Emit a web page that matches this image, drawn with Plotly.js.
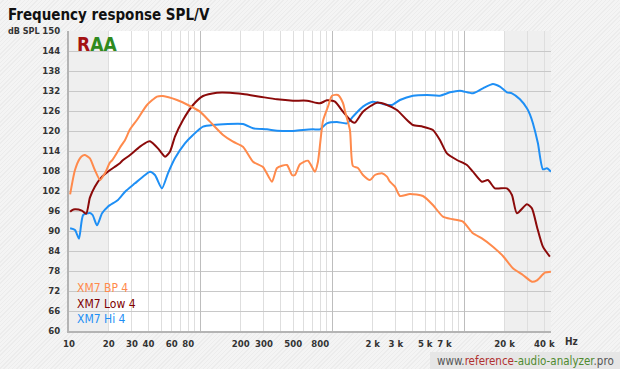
<!DOCTYPE html>
<html>
<head>
<meta charset="utf-8">
<script src="https://cdn.plot.ly/plotly-3.0.1.min.js"></script>
<style>
  html, body { margin: 0; padding: 0; }
  body {
    width: 620px; height: 369px; overflow: hidden;
    background: repeating-linear-gradient(135deg, #f4f4f4 0px, #f4f4f4 2px, #ececec 2px, #ececec 3px);
  }
  #chart { width: 620px; height: 369px; }
</style>
</head>
<body>
<div id="chart"></div>
<script>
// ---- data (frequency in Hz, level in dB SPL) ----
const bpFreq = [10.2, 11.1, 12.1, 12.8, 13.2, 14.4, 15.7, 17.2, 18.7, 20.4, 21.2, 23.1, 24.3, 26.6, 29.0, 32.7, 39.0, 46.4, 51.5, 65.8, 82.5, 98.3, 117, 147, 175, 208, 248, 295, 345, 377, 448, 489, 515, 562, 647, 730, 770, 840, 917, 983, 1091, 1191, 1233, 1345, 1417, 1547, 1688, 1907, 2081, 2351, 2565, 2703, 2950, 3218, 3831, 4807, 5722, 6813, 8113, 9656, 11500, 13450, 16300, 19410, 23100, 27500, 32190, 35130, 40370, 44830];
const bpLevel = [101.0, 108.3, 111.8, 112.7, 112.8, 111.8, 108.3, 105.3, 107.3, 110.5, 111.2, 113.5, 115.0, 117.3, 120.5, 123.3, 127.8, 130.3, 130.5, 129.3, 127.5, 125.8, 122.8, 118.8, 116.8, 115.3, 110.8, 109.2, 104.8, 108.9, 109.8, 106.8, 106.8, 110.0, 111.1, 107.8, 110.8, 123.0, 127.3, 130.6, 130.8, 128.4, 126.0, 120.3, 109.5, 108.9, 106.8, 105.3, 106.8, 107.3, 106.3, 104.8, 103.3, 100.5, 101.1, 100.5, 97.8, 94.3, 93.5, 92.8, 89.3, 87.8, 85.3, 82.5, 78.8, 76.8, 74.8, 75.2, 77.5, 77.8];

const lowFreq = [10.2, 10.5, 11.1, 12.5, 13.5, 14.4, 15.7, 17.8, 19.7, 22.3, 24.3, 25.2, 29.0, 34.5, 39.7, 41.1, 47.2, 53.4, 58.2, 63.5, 73.1, 87.0, 103.6, 132, 166, 208, 280, 377, 498, 635, 797, 900, 1036, 1191, 1393, 1468, 1688, 2154, 2565, 3053, 3637, 4037, 4807, 5722, 6466, 7305, 8700, 10360, 11500, 13450, 14940, 16880, 20810, 22710, 24770, 29490, 32190, 35130, 38980, 44050];
const lowLevel = [95.8, 96.2, 96.5, 96.1, 95.2, 100.0, 103.3, 106.3, 107.8, 109.3, 110.3, 111.0, 112.8, 115.3, 116.8, 116.9, 114.8, 112.3, 113.8, 118.3, 123.3, 127.8, 130.5, 131.5, 131.5, 131.1, 130.3, 129.5, 129.1, 129.1, 128.3, 129.2, 128.8, 125.8, 122.8, 122.5, 125.8, 128.5, 127.8, 126.3, 123.3, 121.8, 121.3, 120.3, 117.3, 113.3, 111.3, 109.8, 107.8, 104.8, 105.3, 102.8, 102.8, 100.8, 95.3, 98.0, 96.8, 91.3, 85.3, 82.3];

const hiFreq = [10.2, 11.1, 11.9, 12.8, 14.4, 15.1, 16.3, 17.8, 19.7, 23.5, 26.6, 31.6, 37.7, 41.1, 44.8, 50.6, 56.2, 63.5, 75.6, 87.0, 103.6, 123, 208, 248, 316, 377, 498, 593, 706, 797, 900, 1072, 1277, 1417, 1688, 2009, 2393, 2799, 3218, 4037, 5153, 6466, 7700, 9165, 11500, 13690, 16300, 18420, 20810, 22710, 26110, 29490, 31070, 32750, 35730, 38980, 41800, 44830];
const hiLevel = [90.8, 90.3, 87.7, 94.8, 95.4, 94.8, 91.7, 95.3, 97.3, 99.3, 101.8, 104.3, 106.8, 107.8, 106.8, 102.8, 107.3, 111.8, 116.3, 118.8, 121.3, 121.8, 122.1, 120.8, 120.5, 120.1, 120.0, 120.3, 120.5, 120.5, 122.3, 122.7, 122.3, 124.3, 127.3, 128.8, 128.1, 127.8, 129.3, 130.6, 130.8, 130.6, 131.6, 132.1, 131.3, 132.8, 134.1, 133.3, 131.6, 131.3, 129.5, 126.8, 125.0, 122.3, 116.3, 108.5, 108.8, 107.8];

const seriesNames = ['XM7 BP 4', 'XM7 Low 4', 'XM7 Hi 4'];
const seriesColors = ['#ff8a4c', '#8b0a0a', '#1e8ff5'];
const legendColors = ['#ff8a4c', '#800000', '#1e8ff5'];

const gridVals = [10,20,30,40,50,60,70,80,90,100,200,300,400,500,600,700,800,900,1000,2000,3000,4000,5000,6000,7000,8000,9000,10000,20000,30000,40000];
const labelMap = {10:'10',20:'20',30:'30',40:'40',60:'60',80:'80',200:'200',300:'300',500:'500',800:'800',2000:'2 k',3000:'3 k',5000:'5 k',7000:'7 k',20000:'20 k',40000:'40 k'};
const majorVals = [100, 1000, 10000];

const xMin = 10, xMax = 44900;
const lmin = Math.log10(xMin), lmax = Math.log10(xMax);
const px = f => (Math.log10(f) - lmin) / (lmax - lmin);

const FONT = 'DejaVu Sans Condensed, DejaVu Sans, sans-serif';

const traces = [
  {x: hiFreq, y: hiLevel, name: seriesNames[2], color: seriesColors[2]},
  {x: lowFreq, y: lowLevel, name: seriesNames[1], color: seriesColors[1]},
  {x: bpFreq, y: bpLevel, name: seriesNames[0], color: seriesColors[0]}
].map(s => ({
  x: s.x, y: s.y, name: s.name, type: 'scatter', mode: 'lines',
  line: {color: s.color, width: 2, shape: 'spline', smoothing: 0.6},
  hoverinfo: 'skip', showlegend: false, xaxis: 'x', yaxis: 'y'
}));
// invisible trace to activate xaxis2 (major grid lines)
traces.unshift({x: [xMin], y: [60], xaxis: 'x2', yaxis: 'y', mode: 'markers', marker: {opacity: 0}, showlegend: false, hoverinfo: 'skip'});

const annotations = [
  {xref: 'paper', yref: 'paper', x: -0.131, y: 1.0, xanchor: 'left', yanchor: 'middle', showarrow: false,
   text: '<b>dB SPL</b>', font: {family: FONT, size: 9, color: '#333'}},
  {xref: 'paper', yref: 'paper', x: 1.0415, y: -0.034, xanchor: 'center', yanchor: 'middle', showarrow: false,
   text: '<b>Hz</b>', font: {family: FONT, size: 10, color: '#333'}},
  {xref: 'paper', yref: 'paper', x: 0.012, y: 1.0, xanchor: 'left', yanchor: 'top', showarrow: false,
   text: '<b><span style="color:#a31212">R</span><span style="color:#2f8a1e">AA</span></b>',
   font: {family: FONT, size: 19}},
  {xref: 'paper', yref: 'paper', x: 1.135, y: -0.1, xanchor: 'right', yanchor: 'middle', showarrow: false,
   text: '<span style="color:#555">www.</span><span style="color:#b03030">reference</span><span style="color:#4f8a2f">-audio-analyzer</span><span style="color:#555">.pro</span>',
   font: {family: FONT, size: 11.5}}
];
seriesNames.forEach((n, i) => {
  annotations.push({xref: 'paper', yref: 'paper', x: 0.012, y: (331 - (288 + i * 15.5)) / 300,
    xanchor: 'left', yanchor: 'middle', showarrow: false, text: n,
    font: {family: FONT, size: 12, color: legendColors[i]}});
});

const shapes = [
  {type: 'rect', xref: 'paper', yref: 'paper', x0: 0, x1: px(20), y0: 0, y1: 1, fillcolor: '#efefef', line: {width: 0}, layer: 'below'},
  {type: 'rect', xref: 'paper', yref: 'paper', x0: px(20000), x1: 1, y0: 0, y1: 1, fillcolor: '#efefef', line: {width: 0}, layer: 'below'},
  {type: 'rect', xref: 'paper', yref: 'paper', x0: (430 - 69) / 482, x1: 1.16, y0: -0.14, y1: (331 - 352) / 300, fillcolor: '#e6e6e6', line: {width: 0}, layer: 'below'}
];

const tickFont = {family: FONT, size: 9.5, color: '#333', weight: 'bold'};

const layout = {
  width: 620, height: 369,
  margin: {l: 69, r: 69, t: 31, b: 38},
  paper_bgcolor: 'rgba(0,0,0,0)',
  plot_bgcolor: '#ffffff',
  title: {text: '<b>Frequency response SPL/V</b>', x: 8 / 620, xanchor: 'left', xref: 'container',
          y: 1 - 15 / 369, yanchor: 'middle', yref: 'container',
          font: {family: FONT, size: 15, color: '#111'}},
  xaxis: {type: 'log', range: [lmin, lmax], tickmode: 'array', tickvals: gridVals,
          ticktext: gridVals.map(v => labelMap[v] || ''), ticks: '', showgrid: true,
          gridcolor: '#dedede', gridwidth: 1, showline: true, linecolor: '#b4b4b4', linewidth: 2,
          tickfont: tickFont, ticklabelstandoff: 3,
          zeroline: false, fixedrange: true},
  xaxis2: {type: 'log', range: [lmin, lmax], overlaying: 'x', tickmode: 'array', tickvals: majorVals,
           showticklabels: false, ticks: '', showgrid: true, gridcolor: '#bdbdbd', gridwidth: 1,
           showline: false, zeroline: false, fixedrange: true},
  yaxis: {range: [60, 150], tick0: 60, dtick: 6, ticks: '', showgrid: true, gridcolor: '#c8c8c8',
          gridwidth: 1, showline: true, linecolor: '#b4b4b4', linewidth: 2,
          tickfont: tickFont, ticklabelstandoff: 5,
          zeroline: false, fixedrange: true},
  annotations: annotations,
  shapes: shapes,
  showlegend: false
};

Plotly.newPlot('chart', traces, layout, {displayModeBar: false, staticPlot: true});
</script>
</body>
</html>
